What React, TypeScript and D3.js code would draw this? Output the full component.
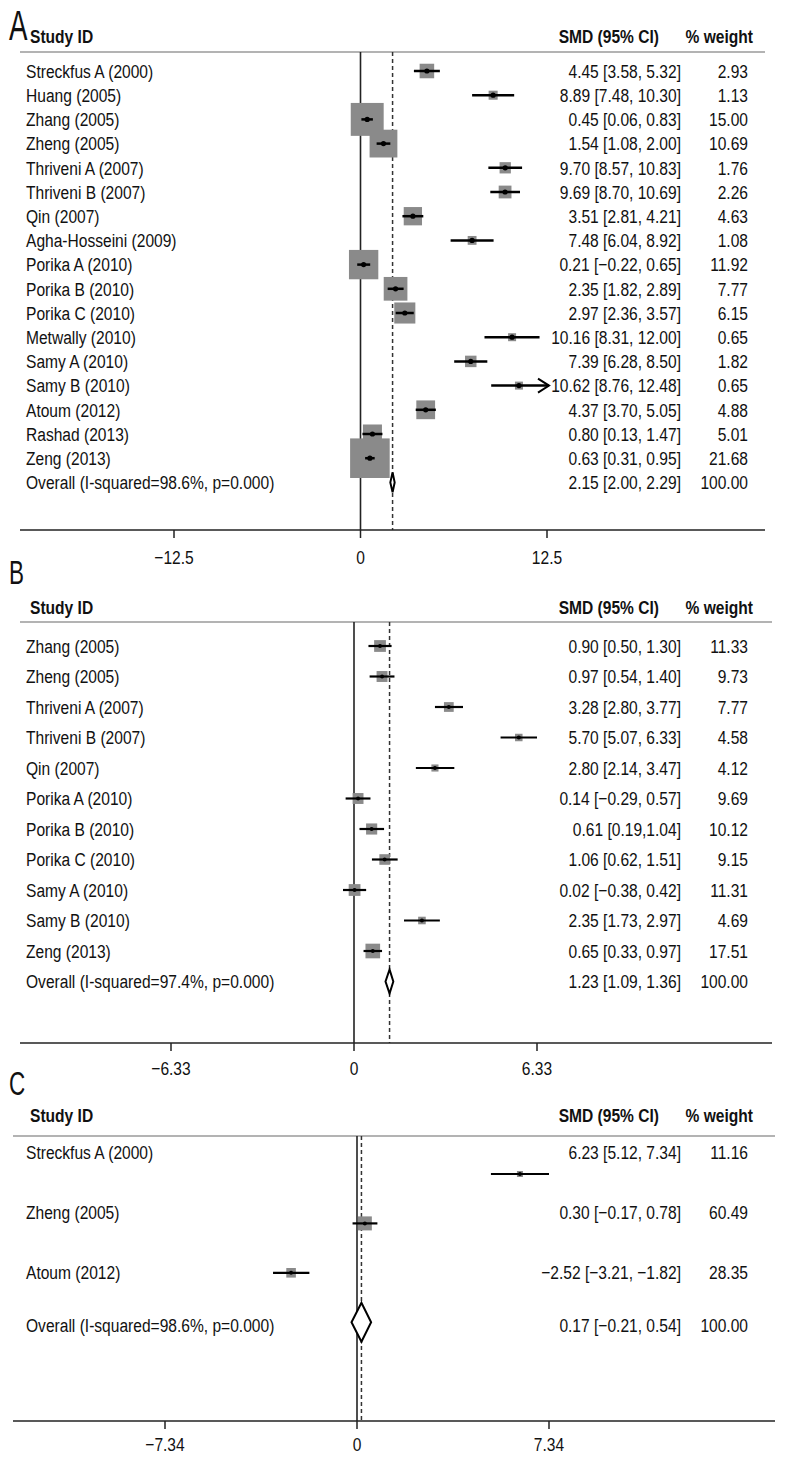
import React from "react";
import * as d3 from "d3";

// ---------- Panel A data ----------
const studiesA = ["Streckfus A (2000)", "Huang (2005)", "Zhang (2005)", "Zheng (2005)", "Thriveni A (2007)", "Thriveni B (2007)", "Qin (2007)", "Agha-Hosseini (2009)", "Porika A (2010)", "Porika B (2010)", "Porika C (2010)", "Metwally (2010)", "Samy A (2010)", "Samy B (2010)", "Atoum (2012)", "Rashad (2013)", "Zeng (2013)"];
const smdA = [4.45, 8.89, 0.45, 1.54, 9.70, 9.69, 3.51, 7.48, 0.21, 2.35, 2.97, 10.16, 7.39, 10.62, 4.37, 0.80, 0.63];
const lowA = [3.58, 7.48, 0.06, 1.08, 8.57, 8.70, 2.81, 6.04, -0.22, 1.82, 2.36, 8.31, 6.28, 8.76, 3.70, 0.13, 0.31];
const highA = [5.32, 10.30, 0.83, 2.00, 10.83, 10.69, 4.21, 8.92, 0.65, 2.89, 3.57, 12.00, 8.50, 12.48, 5.05, 1.47, 0.95];
const weightA = [2.93, 1.13, 15.00, 10.69, 1.76, 2.26, 4.63, 1.08, 11.92, 7.77, 6.15, 0.65, 1.82, 0.65, 4.88, 5.01, 21.68];
const ciTextA = ["4.45 [3.58, 5.32]", "8.89 [7.48, 10.30]", "0.45 [0.06, 0.83]", "1.54 [1.08, 2.00]", "9.70 [8.57, 10.83]", "9.69 [8.70, 10.69]", "3.51 [2.81, 4.21]", "7.48 [6.04, 8.92]", "0.21 [\u22120.22, 0.65]", "2.35 [1.82, 2.89]", "2.97 [2.36, 3.57]", "10.16 [8.31, 12.00]", "7.39 [6.28, 8.50]", "10.62 [8.76, 12.48]", "4.37 [3.70, 5.05]", "0.80 [0.13, 1.47]", "0.63 [0.31, 0.95]"];
const weightTextA = ["2.93", "1.13", "15.00", "10.69", "1.76", "2.26", "4.63", "1.08", "11.92", "7.77", "6.15", "0.65", "1.82", "0.65", "4.88", "5.01", "21.68"];
const arrowsA = ["Samy B (2010)"];
const overallA = [2.15, 2.00, 2.29];
const overallLabelA = "Overall (I-squared=98.6%, p=0.000)";
const overallTextA = ["2.15 [2.00, 2.29]", "100.00"];
const ticksA = [-12.5, 0, 12.5];
const tickLabelsA = ["\u221212.5", "0", "12.5"];

// ---------- Panel B data ----------
const studiesB = ["Zhang (2005)", "Zheng (2005)", "Thriveni A (2007)", "Thriveni B (2007)", "Qin (2007)", "Porika A (2010)", "Porika B (2010)", "Porika C (2010)", "Samy A (2010)", "Samy B (2010)", "Zeng (2013)"];
const smdB = [0.90, 0.97, 3.28, 5.70, 2.80, 0.14, 0.61, 1.06, 0.02, 2.35, 0.65];
const lowB = [0.50, 0.54, 2.80, 5.07, 2.14, -0.29, 0.19, 0.62, -0.38, 1.73, 0.33];
const highB = [1.30, 1.40, 3.77, 6.33, 3.47, 0.57, 1.04, 1.51, 0.42, 2.97, 0.97];
const weightB = [11.33, 9.73, 7.77, 4.58, 4.12, 9.69, 10.12, 9.15, 11.31, 4.69, 17.51];
const ciTextB = ["0.90 [0.50, 1.30]", "0.97 [0.54, 1.40]", "3.28 [2.80, 3.77]", "5.70 [5.07, 6.33]", "2.80 [2.14, 3.47]", "0.14 [\u22120.29, 0.57]", "0.61 [0.19,1.04]", "1.06 [0.62, 1.51]", "0.02 [\u22120.38, 0.42]", "2.35 [1.73, 2.97]", "0.65 [0.33, 0.97]"];
const weightTextB = ["11.33", "9.73", "7.77", "4.58", "4.12", "9.69", "10.12", "9.15", "11.31", "4.69", "17.51"];
const overallB = [1.23, 1.09, 1.36];
const overallLabelB = "Overall (I-squared=97.4%, p=0.000)";
const overallTextB = ["1.23 [1.09, 1.36]", "100.00"];
const ticksB = [-6.33, 0, 6.33];
const tickLabelsB = ["\u22126.33", "0", "6.33"];

// ---------- Panel C data ----------
const studiesC = ["Streckfus A (2000)", "Zheng (2005)", "Atoum (2012)"];
const smdC = [6.23, 0.30, -2.52];
const lowC = [5.12, -0.17, -3.21];
const highC = [7.34, 0.78, -1.82];
const weightC = [11.16, 60.49, 28.35];
const ciTextC = ["6.23 [5.12, 7.34]", "0.30 [\u22120.17, 0.78]", "\u22122.52 [\u22123.21, \u22121.82]"];
const weightTextC = ["11.16", "60.49", "28.35"];
const overallC = [0.17, -0.21, 0.54];
const overallLabelC = "Overall (I-squared=98.6%, p=0.000)";
const overallTextC = ["0.17 [\u22120.21, 0.54]", "100.00"];
const ticksC = [-7.34, 0, 7.34];
const tickLabelsC = ["\u22127.34", "0", "7.34"];

const FONT = "'Liberation Sans', Arial, sans-serif";
const FS = 19;
const SX = 0.82;
const SQ = "#8a8a8a";

function T(props: { x: number; y: number; size?: number; anchor?: string; bold?: boolean; sx?: number; children: any }) {
  const { x, y, size = FS, anchor = "start", bold = false, sx = SX } = props;
  return (
    <text transform={`translate(${x},${y}) scale(${sx},1)`} fontSize={size} textAnchor={anchor}
      fontWeight={bold ? "bold" : "normal"} fill="#111">
      {props.children}
    </text>
  );
}

type Layout = {
  letter: string; letterY: number; letterSize: number;
  headY: number; lineY: number; lineX0: number; lineX1: number;
  textY0: number; textStep: number; textYs?: number[];
  markY0: number; markStep: number; tickOff: number;
  axisY: number; x0: number; x1: number;
  sqK: number; sqMin: number; dotR: number; ciW: number; diamondH: number;
};

function Panel(props: {
  L: Layout; studies: string[]; smd: number[]; low: number[]; high: number[]; weight: number[];
  ciText: string[]; weightText: string[]; overall: number[]; overallLabel: string; overallText: string[];
  ticks: number[]; tickLabels: string[]; arrows?: string[];
}) {
  const { L, studies, smd, low, high, weight, ciText, weightText, overall, overallLabel, overallText, ticks, tickLabels } = props;
  const arrows = props.arrows || [];
  const x = d3.scaleLinear().domain([ticks[0], ticks[ticks.length - 1]]).range([L.x0, L.x1]);
  const n = studies.length;
  const rowIdx = d3.range(n + 1);
  const textY = (i: number) => (L.textYs ? L.textYs[i] : L.textY0 + i * L.textStep);
  const markY = (i: number) => L.markY0 + i * L.markStep;
  const base = (y: number) => y + FS * 0.36;
  const topY = L.lineY;
  const colCI = 681;
  const colW = 748;
  const [oe, olo, ohi] = overall;
  const oy = markY(n);
  const diamond = d3.line()([[x(olo), oy], [x(oe), oy - L.diamondH / 2], [x(ohi), oy], [x(oe), oy + L.diamondH / 2]]) + "Z";
  return (
    <g fontFamily={FONT}>
      <T x={9} y={L.letterY} size={L.letterSize} sx={0.66}>{L.letter}</T>
      <T x={30} y={L.headY} bold>Study ID</T>
      <T x={659} y={L.headY} bold anchor="end">SMD (95% CI)</T>
      <T x={753} y={L.headY} bold anchor="end">% weight</T>
      <line x1={L.lineX0} x2={L.lineX1} y1={L.lineY} y2={L.lineY} stroke="#9a9a9a" strokeWidth={1.5} />
      <line x1={x(0)} x2={x(0)} y1={topY} y2={L.axisY} stroke="#222" strokeWidth={1.6} />
      <line x1={x(oe)} x2={x(oe)} y1={topY} y2={L.axisY} stroke="#333" strokeWidth={1.5} strokeDasharray="4,3" />
      <line x1={L.lineX0} x2={L.lineX1} y1={L.axisY} y2={L.axisY} stroke="#222" strokeWidth={1.6} />
      {ticks.map((t, i) => (
        <g key={"t" + i}>
          <line x1={x(t)} x2={x(t)} y1={L.axisY} y2={L.axisY + 8} stroke="#222" strokeWidth={1.5} />
          <T x={x(t)} y={L.axisY + L.tickOff} anchor="middle">{tickLabels[i]}</T>
        </g>
      ))}
      {studies.map((s, i) => {
        const y = markY(i);
        const side = Math.max(L.sqK * Math.sqrt(weight[i]), L.sqMin);
        const hasArrow = arrows.indexOf(s) >= 0;
        const xe = hasArrow ? x(ticks[ticks.length - 1]) + 2 : x(high[i]);
        return (
          <g key={s}>
            <rect x={x(smd[i]) - side / 2} y={y - side / 2} width={side} height={side} fill={SQ} />
            <line x1={x(low[i])} x2={xe} y1={y} y2={y} stroke="#000" strokeWidth={L.ciW} />
            {hasArrow && (
              <path d={`M${xe - 11},${y - 7}L${xe},${y}L${xe - 11},${y + 7}`} fill="none" stroke="#000" strokeWidth={2} />
            )}
            <circle cx={x(smd[i])} cy={y} r={L.dotR} fill="#000" />
          </g>
        );
      })}
      <path d={diamond} fill="#fff" stroke="#000" strokeWidth={2} />
      {rowIdx.map((i) => {
        const y = base(textY(i));
        const isO = i === n;
        return (
          <g key={"r" + i}>
            <T x={26} y={y}>{isO ? overallLabel : studies[i]}</T>
            <T x={colCI} y={y} anchor="end">{isO ? overallText[0] : ciText[i]}</T>
            <T x={colW} y={y} anchor="end">{isO ? overallText[1] : weightText[i]}</T>
          </g>
        );
      })}
    </g>
  );
}

const LA: Layout = {
  letter: "A", letterY: 40, letterSize: 42, headY: 43, lineY: 52, lineX0: 20, lineX1: 765,
  textY0: 71, textStep: 24.2, markY0: 71, markStep: 24.2, tickOff: 34,
  axisY: 530, x0: 174, x1: 547, sqK: 8.5, sqMin: 8, dotR: 2.6, ciW: 2.5, diamondH: 20,
};
const LB: Layout = {
  letter: "B", letterY: 584, letterSize: 34, headY: 614, lineY: 622, lineX0: 20, lineX1: 772,
  textY0: 646, textStep: 30.5, markY0: 646, markStep: 30.5, tickOff: 32,
  axisY: 1043, x0: 171, x1: 537, sqK: 3.5, sqMin: 6, dotR: 2, ciW: 2.2, diamondH: 24,
};
const LC: Layout = {
  letter: "C", letterY: 1095, letterSize: 34, headY: 1122, lineY: 1136, lineX0: 13, lineX1: 775,
  textY0: 1152, textStep: 60, textYs: [1152, 1212, 1272, 1325], markY0: 1174, markStep: 49.4, tickOff: 30,
  axisY: 1421, x0: 165, x1: 549, sqK: 1.8, sqMin: 5, dotR: 2, ciW: 2.2, diamondH: 39,
};

export default function App() {
  return (
    <svg width={800} height={1480} style={{ position: "absolute", left: 0, top: 0, background: "#fff" }}>
      <rect width={800} height={1480} fill="#fff" />
      <Panel L={LA} studies={studiesA} smd={smdA} low={lowA} high={highA} weight={weightA} ciText={ciTextA} weightText={weightTextA}
        overall={overallA} overallLabel={overallLabelA} overallText={overallTextA} ticks={ticksA} tickLabels={tickLabelsA} arrows={arrowsA} />
      <Panel L={LB} studies={studiesB} smd={smdB} low={lowB} high={highB} weight={weightB} ciText={ciTextB} weightText={weightTextB}
        overall={overallB} overallLabel={overallLabelB} overallText={overallTextB} ticks={ticksB} tickLabels={tickLabelsB} />
      <Panel L={LC} studies={studiesC} smd={smdC} low={lowC} high={highC} weight={weightC} ciText={ciTextC} weightText={weightTextC}
        overall={overallC} overallLabel={overallLabelC} overallText={overallTextC} ticks={ticksC} tickLabels={tickLabelsC} />
    </svg>
  );
}
